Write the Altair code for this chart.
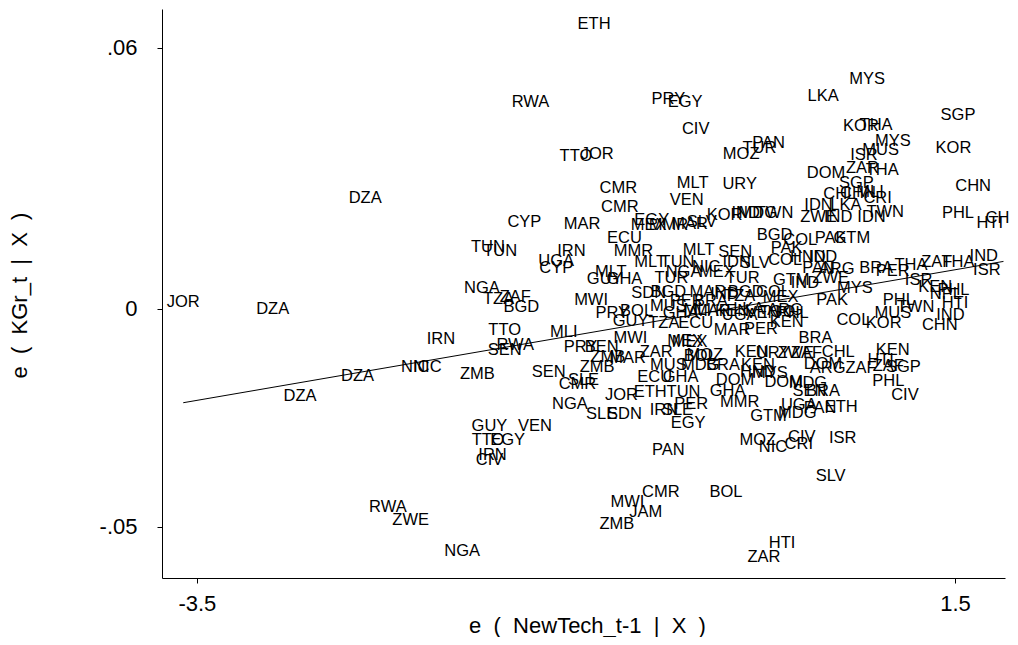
import altair as alt
import pandas as pd

# ---- data (country codes and residual coordinates) ----
codes = [
    "ETH", "MYS", "RWA", "PRY", "EGY", "LKA", "SGP", "KOR", "THA", "CIV",
    "PAN", "TUR", "MOZ", "MYS", "MUS", "KOR", "ISR", "TTO", "JOR", "ZAR",
    "THA", "DOM", "SGP", "CHL", "CHN", "MLI", "CRI", "CHN", "URY", "MLT",
    "CMR", "VEN", "CMR", "DZA", "IDN", "LKA", "TWN", "ZWE", "IND", "IDN",
    "PHL", "CHN", "HTI", "KOR", "SLV", "IND", "MDG", "TWN", "EGY", "MEX",
    "MMR", "MAR", "CYP", "MAR", "ECU", "BGD", "COL", "PAK", "GTM", "TUN",
    "TUN", "IRN", "MMR", "MLT", "SEN", "PAK", "UGA", "CYP", "MLT", "TUN",
    "NIC", "IDN", "SLV", "MEX", "HND", "COL", "MLT", "GUY", "GHA", "NGA",
    "TUR", "TUR", "GTM", "IND", "ARG", "ZWE", "MYS", "SDN", "BGD", "MAR",
    "IND", "BGD", "COL", "TZA", "MEX", "PER", "BRA", "PRY", "BOL", "MUS",
    "GHA", "MLI", "MAR", "KEN", "LKA", "VEN", "TGO", "PHL", "GUY", "TZA",
    "ECU", "MAR", "PER", "KEN", "MWI", "MEX", "MEX", "BRA", "ZAR", "BOL",
    "MOZ", "KEN", "URY", "ZWE", "ZAF", "CHL", "MUS", "BRA", "MDG", "KEN",
    "DOM", "ECU", "GHA", "DOM", "HND", "MYS", "DOM", "MDG", "ARG", "ZAF",
    "HTI", "ZAF", "KEN", "SGP", "PHL", "CIV", "GHA", "MMR", "SEN", "BRA",
    "UGA", "PAN", "ETH", "GTM", "MDG", "MOZ", "NIC", "CIV", "CRI", "ISR",
    "SLV", "BOL", "HTI", "ZAR", "CMR", "MWI", "JAM", "ZMB", "PAN", "EGY",
    "IRN", "SLE", "PER", "TUN", "ETH", "JOR", "NGA", "SLE", "SDN", "GUY",
    "VEN", "TTO", "EGY", "IRN", "CIV", "NGA", "RWA", "ZWE", "JOR", "DZA",
    "DZA", "DZA", "NGA", "TZA", "ZAF", "BGD", "TTO", "IRN", "RWA", "SEN",
    "NIC", "NIC", "ZMB", "SEN", "CMR", "SLE", "MLI", "PRY", "BEN", "ZMB",
    "ZMB", "MAR", "MWI", "IND", "ISR", "ZAF", "THA", "THA", "BRA", "PER",
    "ISR", "KEN", "PHL", "PAK", "PHL", "TWN", "HTI", "MUS", "IND", "COL",
    "KOR", "CHN", "NPL", "IND", "PAN", "UGA", "ARG",
]

x_vals = [
    -0.88, 0.92, -1.30, -0.39, -0.28, 0.63, 1.52, 0.88, 0.98, -0.21,
    0.27, 0.21, 0.09, 1.09, 1.01, 1.49, 0.90, -1.00, -0.86, 0.89,
    1.02, 0.65, 0.85, 0.74, 0.86, 0.94, 0.99, 1.62, 0.08, -0.23,
    -0.72, -0.27, -0.71, -2.39, 0.60, 0.78, 1.04, 0.60, 0.73, 0.95,
    1.52, 1.82, 1.73, -0.02, -0.17, 0.12, 0.20, 0.31, -0.50, -0.52,
    -0.39, -0.25, -1.34, -0.96, -0.68, 0.31, 0.48, 0.68, 0.82, -1.58,
    -1.50, -1.03, -0.62, -0.19, 0.05, 0.39, -1.13, -1.13, -0.51, -0.33,
    -0.14, 0.06, 0.18, -0.07, 0.53, 0.38, -0.77, -0.81, -0.68, -0.29,
    -0.37, 0.10, 0.42, 0.51, 0.72, 0.68, 0.84, -0.52, -0.39, -0.13,
    -0.02, 0.12, 0.30, 0.08, 0.35, -0.27, -0.11, -0.76, -0.60, -0.39,
    -0.31, -0.20, -0.10, 0.03, 0.14, 0.23, 0.33, 0.43, -0.64, -0.42,
    -0.21, 0.03, 0.22, 0.39, -0.64, -0.28, -0.25, 0.58, -0.47, -0.18,
    -0.15, 0.16, 0.30, 0.45, 0.52, 0.73, -0.39, -0.03, -0.18, 0.20,
    0.63, -0.48, -0.31, 0.05, 0.20, 0.28, 0.37, 0.53, 0.66, 0.88,
    1.01, 1.06, 1.09, 1.16, 1.06, 1.17, 0.00, 0.08, 0.54, 0.63,
    0.47, 0.61, 0.75, 0.27, 0.46, 0.20, 0.30, 0.49, 0.47, 0.76,
    0.68, -0.01, 0.36, 0.24, -0.44, -0.66, -0.54, -0.73, -0.39, -0.26,
    -0.42, -0.33, -0.24, -0.29, -0.51, -0.70, -1.04, -0.83, -0.68, -1.57,
    -1.27, -1.58, -1.45, -1.55, -1.57, -1.75, -2.24, -2.09, -3.59, -3.00,
    -2.44, -2.82, -1.62, -1.51, -1.40, -1.36, -1.47, -1.89, -1.40, -1.47,
    -2.06, -1.98, -1.65, -1.18, -0.99, -0.95, -1.08, -0.97, -0.83, -0.86,
    -0.79, -0.66, -0.90, 1.69, 1.71, 1.38, 1.52, 1.21, 0.98, 1.09,
    1.26, 1.37, 1.49, 0.69, 1.13, 1.24, 1.50, 1.09, 1.47, 0.83,
    1.03, 1.40, 1.44, 0.63, 0.60, 0.08, 0.38,
]

y_vals = [
    0.0654, 0.0528, 0.0475, 0.0482, 0.0475, 0.0489, 0.0445, 0.0420, 0.0422, 0.0413,
    0.0381, 0.0370, 0.0356, 0.0386, 0.0365, 0.0370, 0.0353, 0.0351, 0.0356, 0.0324,
    0.0319, 0.0312, 0.0289, 0.0264, 0.0266, 0.0269, 0.0255, 0.0282, 0.0287, 0.0289,
    0.0278, 0.0250, 0.0234, 0.0255, 0.0239, 0.0239, 0.0223, 0.0211, 0.0211, 0.0211,
    0.0220, 0.0209, 0.0197, 0.0216, 0.0200, 0.0220, 0.0220, 0.0220, 0.0204, 0.0193,
    0.0193, 0.0195, 0.0200, 0.0195, 0.0163, 0.0170, 0.0158, 0.0163, 0.0163, 0.0142,
    0.0133, 0.0133, 0.0133, 0.0135, 0.0131, 0.0140, 0.0110, 0.0094, 0.0108, 0.0108,
    0.0096, 0.0108, 0.0106, 0.0085, 0.0119, 0.0113, 0.0085, 0.0069, 0.0069, 0.0085,
    0.0071, 0.0071, 0.0067, 0.0060, 0.0092, 0.0071, 0.0048, 0.0037, 0.0039, 0.0039,
    0.0034, 0.0039, 0.0039, 0.0030, 0.0028, 0.0018, 0.0018, -0.0009, -0.0005, 0.0007,
    -0.0009, -0.0002, -0.0005, -0.0005, 0.0000, -0.0009, -0.0007, -0.0009, -0.0028, -0.0032,
    -0.0032, -0.0048, -0.0046, -0.0030, -0.0067, -0.0073, -0.0076, -0.0067, -0.0099, -0.0108,
    -0.0106, -0.0099, -0.0101, -0.0101, -0.0101, -0.0099, -0.0129, -0.0129, -0.0129, -0.0129,
    -0.0126, -0.0156, -0.0156, -0.0163, -0.0145, -0.0147, -0.0168, -0.0170, -0.0135, -0.0135,
    -0.0117, -0.0131, -0.0094, -0.0133, -0.0165, -0.0197, -0.0188, -0.0214, -0.0188, -0.0188,
    -0.0220, -0.0227, -0.0225, -0.0245, -0.0239, -0.0301, -0.0317, -0.0294, -0.0310, -0.0296,
    -0.0383, -0.0420, -0.0537, -0.0569, -0.0420, -0.0443, -0.0466, -0.0494, -0.0324, -0.0262,
    -0.0232, -0.0232, -0.0218, -0.0191, -0.0191, -0.0197, -0.0218, -0.0241, -0.0241, -0.0269,
    -0.0269, -0.0301, -0.0301, -0.0335, -0.0347, -0.0556, -0.0455, -0.0484, 0.0016, 0.0000,
    -0.0154, -0.0200, 0.0048, 0.0023, 0.0028, 0.0005, -0.0048, -0.0069, -0.0083, -0.0094,
    -0.0133, -0.0133, -0.0149, -0.0145, -0.0172, -0.0163, -0.0053, -0.0087, -0.0087, -0.0133,
    -0.0110, -0.0112, 0.0021, 0.0122, 0.0090, 0.0108, 0.0108, 0.0101, 0.0094, 0.0087,
    0.0067, 0.0051, 0.0044, 0.0021, 0.0021, 0.0005, 0.0014, -0.0009, -0.0014, -0.0025,
    -0.0032, -0.0037, 0.0034, 0.0119, 0.0094, -0.0014, -0.0002,
]

fit_slope = 0.006  # slope of the fitted line

x_tick_values = [-3.5, 1.5]
x_tick_labels = ["-3.5", "1.5"]
y_tick_values = [-0.05, 0.0, 0.06]
y_tick_labels = ["-.05", "0", ".06"]

x_title = "e ( NewTech_t-1 | X )"
y_title = "e ( KGr_t | X )"

# ---- build tables ----
df = pd.DataFrame({"code": codes, "x": x_vals, "y": y_vals})
xmin, xmax = min(x_vals), max(x_vals)
fit = pd.DataFrame({"x": [xmin, xmax], "y": [fit_slope * xmin, fit_slope * xmax]})


def label_expr(values, labels):
    expr = "''"
    for v, l in zip(reversed(values), reversed(labels)):
        expr = f"(datum.value == {v} ? '{l}' : {expr})"
    return expr


def wide(s):
    # the reference renders its titles with generous word spacing
    return s.replace(" ", "\u00a0 ")


FONT = "Liberation Sans"

xscale = alt.Scale(domain=[-3.73, 1.83], nice=False, zero=False)
yscale = alt.Scale(domain=[-0.0618, 0.0689], nice=False, zero=False)

xaxis = alt.Axis(
    values=x_tick_values,
    labelExpr=label_expr(x_tick_values, x_tick_labels),
    title=wide(x_title),
    grid=False,
    tickSize=5,
    labelPadding=10,
    labelFont=FONT,
    labelFontSize=22,
    labelColor="black",
    titleFont=FONT,
    titleFontSize=22,
    titleFontWeight="normal",
    titleColor="black",
    titleY=47,
    titleX=425,
    titleBaseline="middle",
    domainColor="black",
    tickColor="black",
    labelFlush=False,
    labelOverlap=False,
)

yaxis = alt.Axis(
    values=y_tick_values,
    labelExpr=label_expr(y_tick_values, y_tick_labels),
    title=wide(y_title),
    grid=False,
    tickSize=5,
    labelPadding=20,
    labelFont=FONT,
    labelFontSize=22,
    labelColor="black",
    titleFont=FONT,
    titleFontSize=22,
    titleFontWeight="normal",
    titleColor="black",
    titleAngle=270,
    titleX=-143,
    titleY=286,
    titleBaseline="middle",
    titleAlign="center",
    domainColor="black",
    tickColor="black",
    labelFlush=False,
    labelOverlap=False,
)

labels = alt.Chart(df).mark_text(
    font=FONT, fontSize=16.5, color="black", align="center", baseline="middle"
).encode(
    x=alt.X("x:Q", scale=xscale, axis=xaxis),
    y=alt.Y("y:Q", scale=yscale, axis=yaxis),
    text="code:N",
)

line = alt.Chart(fit).mark_line(color="black", strokeWidth=1).encode(
    x=alt.X("x:Q", scale=xscale),
    y=alt.Y("y:Q", scale=yscale),
)

chart = (
    alt.layer(labels, line)
    .properties(
        width=843,
        height=569,
        autosize=alt.AutoSizeParams(type="none"),
        padding={"left": 154, "top": 1, "right": 5, "bottom": 59},
        background="white",
    )
    .configure_view(strokeWidth=0)
)

chart.save("out.html", embed_options={"renderer": "svg", "actions": False})
